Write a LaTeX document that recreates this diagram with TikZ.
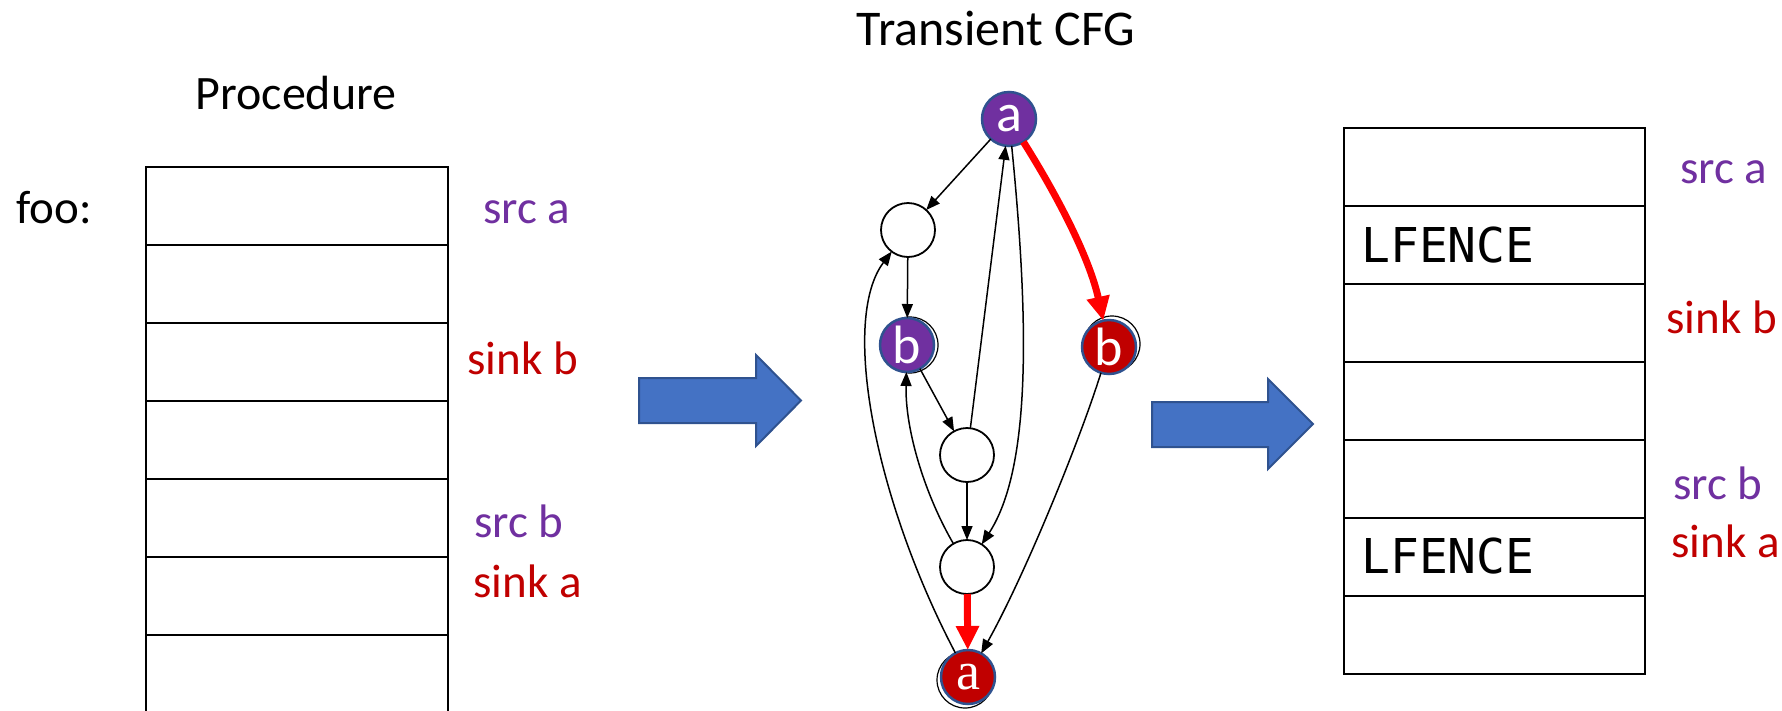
\documentclass[tikz,border=0pt]{standalone}
\usepackage{fontspec}
\setmainfont{Carlito}
\newfontfamily\monofont{DejaVu Sans Mono}
\newfontfamily\nodeseriffont{Liberation Serif}
\usetikzlibrary{arrows.meta}
\definecolor{srcpurple}{HTML}{7030A0}
\definecolor{sinkred}{HTML}{C00000}
\definecolor{nodeborder}{HTML}{2F528F}
\definecolor{bluefill}{HTML}{4472C4}
\definecolor{hotred}{HTML}{FF0000}
\begin{document}
\begin{tikzpicture}[x=1pt,y=-1pt,
  cell/.style={draw=black, line width=2.2pt, minimum width=302pt, minimum height=78pt, inner sep=0pt, outer sep=0pt},
  lbl/.style={anchor=base west, inner sep=0pt, font=\fontsize{47}{56}\selectfont},
  ttl/.style={anchor=base, inner sep=0pt, font=\fontsize{48}{56}\selectfont},
  fence/.style={anchor=base west, inner sep=0pt, font=\monofont\fontsize{48}{56}\selectfont},
  cfgnode/.style={circle, minimum size=54pt, inner sep=0pt, outer sep=0pt, font=\fontsize{54}{56}\selectfont, text=white},
  srcnode/.style={cfgnode, fill=srcpurple, draw=nodeborder, line width=2.5pt},
  sinknode/.style={cfgnode, fill=sinkred, draw=nodeborder, line width=2.5pt},
  plainnode/.style={cfgnode, fill=white, draw=black, line width=1.8pt},
  edge/.style={draw=black, line width=1.5pt, -{Triangle[length=14pt,width=11pt]}},
  hot/.style={draw=hotred, line width=7pt, -{Triangle[length=24pt,width=22pt]}},
  bigarrow/.style={fill=bluefill, draw=nodeborder, line width=2pt, line join=miter},
  shadowring/.style={draw=black, line width=1.2pt},
]
\useasboundingbox (0,0) rectangle (1782,710);
\clip (0,0) rectangle (1782,710);

% titles
\node[ttl] (tproc) at (296,109) {Procedure};
\node[ttl, font=\fontsize{50}{56}\selectfont] (tcfg) at (996,45) {Transient CFG};

% procedure box
\foreach \k in {0,...,6} {
  \node[cell] (p\k) at (297,{206+78*\k}) {};
}
\node[lbl] (foo) at (16,223) {foo:};
\node[lbl, text=srcpurple] (psrca) at (483,223) {src a};
\node[lbl, text=sinkred] (psinkb) at (467,374) {sink b};
\node[lbl, text=srcpurple] (psrcb) at (474,537) {src b};
\node[lbl, text=sinkred] (psinka) at (473,597) {sink a};

% result box
\foreach \k in {0,...,6} {
  \node[cell, minimum width=301pt] (q\k) at (1494.5,{167+78*\k}) {};
}
\node[fence] (fence1) at (1361,262) {LFENCE};
\node[fence] (fence2) at (1361,573) {LFENCE};
\node[lbl, text=srcpurple] (qsrca) at (1680,183) {src a};
\node[lbl, text=sinkred] (qsinkb) at (1666,333) {sink b};
\node[lbl, text=srcpurple] (qsrcb) at (1673,499) {src b};
\node[lbl, text=sinkred] (qsinka) at (1671,557) {sink a};

% big blue arrows
\draw[bigarrow] (639,378) -- (756,378) -- (756,355) -- (801,400.5) -- (756,446) -- (756,423) -- (639,423) -- cycle;
\draw[bigarrow] (1152,402) -- (1268,402) -- (1268,379) -- (1313,424) -- (1268,469) -- (1268,447) -- (1152,447) -- cycle;

% shadow rings
\draw[shadowring] (1112,344) circle (28pt);
\draw[shadowring] (910,345) circle (28pt);
\draw[shadowring] (965,680) circle (28pt);

% CFG nodes
\node[srcnode] (A) at (1009,119) {a};
\node[plainnode] (L) at (908,230) {};
\node[srcnode] (Bp) at (907,345) {b};
\node[sinknode] (Br) at (1109,347) {b};
\node[plainnode] (M) at (967,455) {};
\node[plainnode] (W) at (967,567) {};
\node[sinknode, font=\nodeseriffont\fontsize{54}{56}\selectfont] (Ar) at (968,677) {a};

% CFG edges
\draw[edge] (A) -- (L);
\draw[edge] (L) -- (Bp);
\draw[edge] (Bp) -- (M);
\draw[edge] (M) -- (A);
\draw[edge] (A) .. controls (1030,330) and (1030,470) .. (W);
\draw[edge] (M) -- (W);
\draw[edge] (W) .. controls (925,495) and (905,430) .. (Bp);
\draw[edge] (Ar) .. controls (875,500) and (840,320) .. (L);
\draw[edge] (Br) .. controls (1080,440) and (1025,575) .. (Ar);
\draw[hot] (W) -- (Ar);
\draw[hot] (A) .. controls (1060,200) and (1090,260) .. (Br);
\end{tikzpicture}
\end{document}
